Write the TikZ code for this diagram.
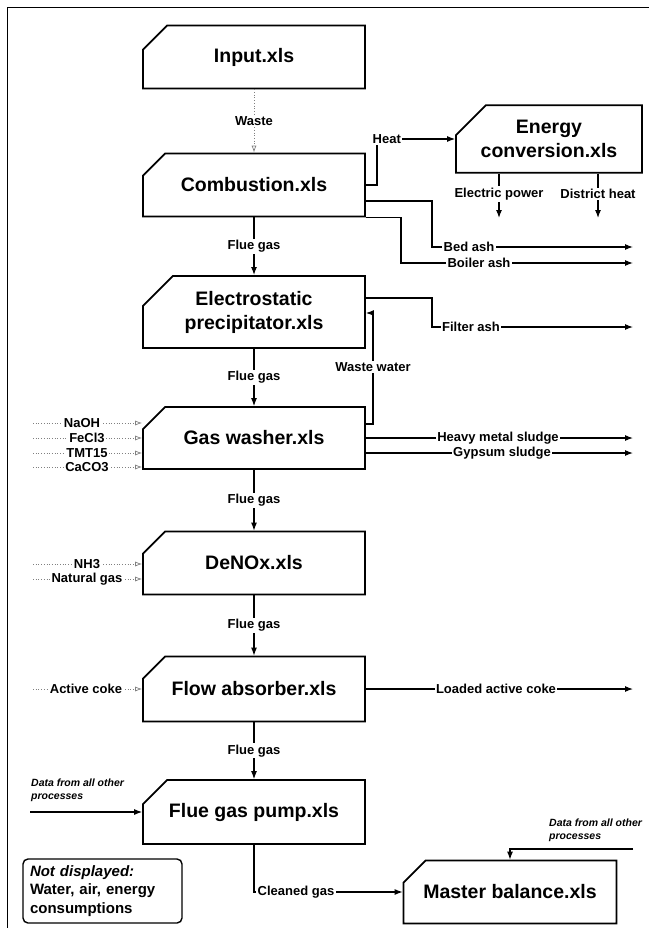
\documentclass[tikz,border=0pt]{standalone}
\usepackage{fontspec}
\setmainfont{Liberation Sans}
\usetikzlibrary{arrows.meta,positioning,shapes.misc,calc}

\begin{document}
\begin{tikzpicture}[x=1pt, y=-1pt,
	proc/.style={draw, line width=1.8pt, chamfered rectangle,
		chamfered rectangle corners=north west,
		chamfered rectangle xsep=15pt, chamfered rectangle ysep=15pt,
		minimum width=222pt, minimum height=63pt, inner sep=0pt, align=center,
		font=\bfseries\fontsize{19.5}{24}\selectfont},
	note/.style={draw, line width=1.4pt, rounded corners=5pt, text width=145pt,
		inner xsep=7pt, minimum height=64pt, align=left,
		font=\bfseries\fontsize{15}{18.5}\selectfont},
	lbl/.style={fill=white, inner sep=1.5pt, text=black,
		font=\bfseries\fontsize{13}{15}\selectfont},
	datalbl/.style={inner sep=0pt, align=left,
		font=\bfseries\itshape\fontsize{10.5}{13}\selectfont},
	flow/.style={line width=1.1pt, -{Latex[length=8pt,width=6pt]}},
	feed/.style={line width=0.7pt, gray, dotted, -{Latex[open,length=7pt,width=5pt]}}]

	\useasboundingbox (0,0) rectangle (649,928);
	\draw[line width=1pt] (7,928) -- (7,8) -- (649,8);

	% process sheets
	\node[proc] (inp) at (254,57) {Input.xls};
	\node[proc] (comb) at (254,185) {Combustion.xls};
	\node[proc, minimum height=64pt] (esp) at (254,312) {Electrostatic\\precipitator.xls};
	\node[proc, minimum height=62pt] (gw) at (254,438) {Gas washer.xls};
	\node[proc] (denox) at (254,563) {DeNOx.xls};
	\node[proc, minimum height=65pt] (fa) at (254,689) {Flow absorber.xls};
	\node[proc, minimum height=64pt] (fgp) at (254,812) {Flue gas pump.xls};
	\node[proc, minimum width=213pt] (mb) at (510,892) {Master balance.xls};
	\node[proc, minimum width=186pt] (ec) at (549,139) {Energy\\conversion.xls};
	\node[note] (nd) at (102.5,891) {\textit{Not displayed:}\\Water, air, energy\\consumptions};

	% free ends and corners
	\coordinate (heatc) at (377,139);
	\coordinate (epw) at (499,218);
	\coordinate (dht) at (598,218);
	\coordinate (bedc) at (432,247);
	\coordinate (bedend) at (633,247);
	\coordinate (boilc) at (401,263);
	\coordinate (boilend) at (633,263);
	\coordinate (filtc) at (432,327);
	\coordinate (filtend) at (633,327);
	\coordinate (wwc) at (373,424);
	\coordinate (hmsend) at (633,438);
	\coordinate (gypend) at (633,453);
	\coordinate (coke) at (633,689);
	\coordinate (datal) at (30,812);
	\coordinate (datar) at (633,849);

	% main gas line
	\draw[feed] (inp.south) -- (comb.north);
	\draw[flow] (comb.south) -- (esp.north);
	\draw[flow] (esp.south) -- (gw.north);
	\draw[flow] (gw.south) -- (denox.north);
	\draw[flow] (denox.south) -- (fa.north);
	\draw[flow] (fa.south) -- (fgp.north);
	\draw[flow] (fgp.south) |- (mb.west);

	% energy
	\draw[flow] (comb.east) -| (heatc) -- (ec.west);
	\draw[flow] (ec.south -| epw) -- (epw);
	\draw[flow] (ec.south -| dht) -- (dht);

	% residues
	\draw[flow] ([yshift=-16pt]comb.east) -| (bedc) -- (bedend);
	\draw[flow] (comb.south -| comb.east) -| (boilc) -- (boilend);
	\draw[flow] ([yshift=14pt]esp.east) -| (filtc) -- (filtend);
	\draw[flow] ([yshift=14pt]gw.east) -- (wwc) |- ([yshift=-1pt]esp.east);
	\draw[flow] (gw.east) -- (hmsend);
	\draw[flow] ([yshift=-15pt]gw.east) -- (gypend);
	\draw[flow] (fa.east) -- (coke);

	% data links
	\draw[flow] (datal) -- (fgp.west);
	\draw[flow] (datar) -| (mb.north);

	% chemicals
	\foreach \yy/\txt/\lx in {423/NaOH/82, 438/FeCl3/87, 453/TMT15/87, 467/CaCO3/87}{
		\coordinate (src) at (33,\yy);
		\draw[feed] (src) -- (src -| gw.west);
		\node[lbl] (in-\txt) at (\lx,\yy) {\txt};
	}
	\foreach \yy/\txt in {564/NH3, 579/Natural gas}{
		\coordinate (src) at (33,\yy);
		\draw[feed] (src) -- (src -| denox.west);
		\node[lbl] (in-\txt) at (87,\yy) {\txt};
	}
	\coordinate (src) at (33,689);
	\draw[feed] (src) -- (src -| fa.west);
	\node[lbl] (in-coke) at (86,689) {Active coke};

	% labels
	\node[lbl] (waste) at ($(inp.south)!0.5!(comb.north)$) {Waste};
	\foreach \a/\b in {comb/esp, esp/gw, gw/denox, denox/fa, fa/fgp}
		\node[lbl] (fg-\a) at ($(\a.south)!0.5!(\b.north)$) {Flue gas};
	\node[lbl, anchor=west] (heat) at (371,139) {Heat};
	\node[lbl] (elp) at (499,194) {Electric power};
	\node[lbl] (dhl) at (598,194) {District heat};
	\node[lbl] (bed) at (469,247) {Bed ash};
	\node[lbl] (boil) at (479,263) {Boiler ash};
	\node[lbl] (filt) at (471,327) {Filter ash};
	\node[lbl] (ww) at (373,367) {Waste water};
	\node[lbl] (hms) at (498,438) {Heavy metal sludge};
	\node[lbl] (gyp) at (502,453) {Gypsum sludge};
	\node[lbl] (lac) at (496,689) {Loaded active coke};
	\node[lbl] (clg) at (296,892) {Cleaned gas};
	\node[datalbl, anchor=north west] (dtl) at (31,779) {Data from all other\\processes};
	\node[datalbl, anchor=north west] (dtr) at (549,819) {Data from all other\\processes};
\end{tikzpicture}
\end{document}
